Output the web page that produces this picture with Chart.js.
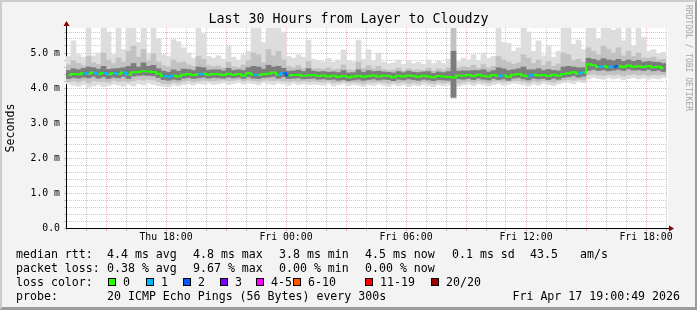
<!DOCTYPE html>
<html>
<head>
<meta charset="utf-8">
<script src="https://cdn.jsdelivr.net/npm/chart.js@4/dist/chart.umd.min.js"></script>
<style>
  body { margin: 0; }
  #frame {
    position: relative; width: 697px; height: 310px; box-sizing: border-box;
    background: #f3f3f3;
    border-top: 2px solid #cdcdcd; border-left: 2px solid #cdcdcd;
    border-right: 2px solid #9c9c9c; border-bottom: 3px solid #9c9c9c;
    font-family: 'DejaVu Sans Mono', monospace; color: #000;
  }
  #c { position: absolute; left: -2px; top: -2px; }
  .t { position: absolute; white-space: pre; font-size: 11.6px; line-height: 14px; }
  #title { position: absolute; left: -2px; width: 697px; top: 9px; text-align: center; font-size: 13.3px; line-height: 16px; }
  #rrd { position: absolute; left: 681px; top: 3px; writing-mode: vertical-rl; font-size: 8px; line-height: 10px; color: #a4a4a4; white-space: pre; }
  .box { position: absolute; width: 8px; height: 8px; box-sizing: border-box; border: 1px solid #000; }
</style>
</head>
<body>
<div id="frame">
  <canvas id="c" width="697" height="310"></canvas>
  <div id="title">Last 30 Hours from Layer to Cloudzy</div>
  <div id="rrd">RRDTOOL / TOBI OETIKER</div>
  <div id="legend"></div>
</div>
<script>
// 15 minute slots from Thu 13:00 to Fri 19:00 (values in ms)
const median = [
  4.37, 4.40, 4.39, 4.42, 4.41, 4.44, 4.40, 4.43, 4.39, 4.42,
  4.40, 4.44, 4.38, 4.45, 4.46, 4.48, 4.47, 4.46, 4.41, 4.34,
  4.32, 4.35, 4.33, 4.38, 4.40, 4.37, 4.39, 4.41, 4.38, 4.40,
  4.39, 4.37, 4.41, 4.38, 4.40, 4.36, 4.42, 4.38, 4.37, 4.39,
  4.41, 4.44, 4.38, 4.42, 4.36, 4.37, 4.38, 4.35, 4.36, 4.37,
  4.34, 4.36, 4.33, 4.35, 4.32, 4.34, 4.31, 4.33, 4.35, 4.32,
  4.34, 4.36, 4.33, 4.35, 4.34, 4.31, 4.35, 4.33, 4.36, 4.34,
  4.32, 4.35, 4.33, 4.31, 4.34, 4.33, 4.32, 4.30, 4.36, 4.35,
  4.37, 4.34, 4.38, 4.35, 4.33, 4.37, 4.34, 4.36, 4.32, 4.38,
  4.40, 4.36, 4.33, 4.38, 4.36, 4.37, 4.34, 4.38, 4.35, 4.40,
  4.42, 4.45, 4.41, 4.44, 4.68, 4.65, 4.60, 4.62, 4.59, 4.61,
  4.63, 4.60, 4.64, 4.61, 4.62, 4.60, 4.63, 4.59, 4.61, 4.57
];
// lost pings out of 20
const loss = [
  0, 0, 0, 1, 0, 1, 0, 1, 0, 1,
  0, 1, 0, 0, 0, 0, 0, 0, 0, 1,
  1, 0, 0, 0, 0, 0, 1, 0, 0, 0,
  0, 0, 0, 0, 0, 0, 0, 1, 0, 0,
  0, 0, 1, 2, 0, 0, 0, 0, 0, 0,
  0, 0, 0, 0, 0, 0, 0, 0, 0, 0,
  0, 0, 0, 0, 0, 0, 0, 0, 0, 0,
  0, 0, 0, 0, 0, 0, 0, 0, 0, 0,
  0, 0, 0, 0, 0, 0, 1, 0, 0, 0,
  0, 0, 1, 0, 0, 0, 0, 0, 0, 0,
  0, 0, 1, 0, 0, 0, 1, 0, 1, 2,
  0, 0, 0, 0, 0, 0, 0, 0, 0, 0
];
const maxRtt = [
  4.90, 5.35, 4.95, 4.88, 5.71, 4.92, 5.00, 5.71, 5.60, 4.95,
  5.71, 5.10, 5.71, 5.71, 5.30, 5.71, 5.00, 5.71, 5.40, 4.95,
  4.90, 5.38, 5.32, 5.15, 5.00, 4.85, 5.71, 5.55, 4.90, 4.85,
  4.92, 4.82, 5.20, 4.88, 4.80, 4.95, 5.05, 5.71, 5.71, 5.30,
  5.71, 5.71, 5.71, 5.60, 4.90, 4.85, 4.95, 4.88, 5.37, 4.82,
  4.78, 4.75, 4.85, 4.74, 4.80, 5.09, 4.78, 4.75, 5.37, 4.82,
  5.09, 4.76, 5.00, 4.74, 4.70, 4.72, 4.80, 4.68, 4.78, 4.70,
  4.74, 4.68, 4.80, 4.70, 4.76, 4.70, 4.82, 5.71, 4.75, 4.85,
  4.80, 4.95, 4.78, 5.00, 4.85, 4.90, 5.71, 5.30, 5.28, 5.05,
  5.15, 5.71, 5.60, 5.05, 5.35, 4.92, 5.20, 4.88, 5.05, 5.71,
  5.71, 5.25, 5.37, 5.10, 5.71, 5.71, 5.40, 5.71, 5.71, 5.65,
  5.71, 5.35, 5.71, 5.20, 5.71, 5.45, 5.05, 5.10, 4.98, 5.02
];
const hiMid = [
  4.66, 4.78, 4.70, 4.64, 4.90, 4.72, 4.68, 5.00, 4.80, 4.70,
  4.86, 4.74, 5.05, 5.20, 4.88, 5.10, 4.78, 4.98, 4.75, 4.64,
  4.60, 4.80, 4.72, 4.74, 4.66, 4.62, 4.90, 4.82, 4.64, 4.61,
  4.63, 4.58, 4.74, 4.61, 4.58, 4.66, 4.78, 5.00, 4.95, 4.72,
  5.10, 4.92, 5.05, 4.80, 4.62, 4.58, 4.64, 4.56, 4.76, 4.55,
  4.56, 4.53, 4.58, 4.52, 4.54, 4.66, 4.52, 4.50, 4.74, 4.56,
  4.64, 4.55, 4.62, 4.53, 4.50, 4.51, 4.57, 4.49, 4.55, 4.51,
  4.52, 4.50, 4.57, 4.49, 4.55, 4.51, 4.58, 5.71, 4.57, 4.61,
  4.59, 4.65, 4.56, 4.67, 4.57, 4.62, 4.90, 4.80, 4.74, 4.68,
  4.72, 4.95, 4.85, 4.70, 4.80, 4.64, 4.76, 4.62, 4.69, 5.00,
  4.95, 4.78, 4.82, 4.74, 5.15, 5.05, 4.95, 5.20, 5.10, 5.00,
  5.15, 4.92, 5.05, 4.90, 5.00, 4.86, 4.85, 4.88, 4.80, 4.82
];
const hiIn = [
  4.50, 4.55, 4.52, 4.56, 4.60, 4.58, 4.54, 4.62, 4.53, 4.55,
  4.56, 4.58, 4.62, 4.70, 4.60, 4.72, 4.62, 4.65, 4.55, 4.48,
  4.45, 4.52, 4.48, 4.54, 4.53, 4.50, 4.60, 4.58, 4.51, 4.52,
  4.52, 4.49, 4.56, 4.50, 4.52, 4.50, 4.58, 4.62, 4.60, 4.54,
  4.65, 4.60, 4.62, 4.56, 4.48, 4.49, 4.51, 4.47, 4.55, 4.48,
  4.46, 4.47, 4.45, 4.46, 4.44, 4.50, 4.43, 4.44, 4.52, 4.45,
  4.50, 4.47, 4.48, 4.46, 4.45, 4.43, 4.47, 4.44, 4.48, 4.45,
  4.44, 4.46, 4.47, 4.42, 4.46, 4.44, 4.47, 5.05, 4.48, 4.49,
  4.49, 4.50, 4.50, 4.52, 4.46, 4.50, 4.58, 4.55, 4.50, 4.52,
  4.55, 4.60, 4.52, 4.52, 4.55, 4.50, 4.53, 4.50, 4.49, 4.60,
  4.62, 4.60, 4.58, 4.58, 4.85, 4.82, 4.78, 4.84, 4.80, 4.78,
  4.82, 4.76, 4.80, 4.76, 4.79, 4.74, 4.76, 4.74, 4.73, 4.70
];
const loIn = [
  4.27, 4.30, 4.28, 4.31, 4.29, 4.33, 4.28, 4.32, 4.27, 4.31,
  4.29, 4.33, 4.27, 4.34, 4.36, 4.37, 4.36, 4.35, 4.30, 4.24,
  4.22, 4.25, 4.23, 4.28, 4.30, 4.27, 4.29, 4.31, 4.28, 4.30,
  4.29, 4.28, 4.31, 4.29, 4.31, 4.27, 4.32, 4.28, 4.27, 4.30,
  4.31, 4.33, 4.28, 4.32, 4.27, 4.28, 4.29, 4.26, 4.27, 4.28,
  4.25, 4.26, 4.24, 4.25, 4.22, 4.24, 4.21, 4.23, 4.25, 4.22,
  4.24, 4.26, 4.23, 4.25, 4.24, 4.21, 4.25, 4.23, 4.26, 4.24,
  4.22, 4.25, 4.23, 4.21, 4.24, 4.23, 4.22, 3.74, 4.26, 4.25,
  4.27, 4.24, 4.28, 4.25, 4.23, 4.27, 4.24, 4.26, 4.22, 4.28,
  4.30, 4.26, 4.23, 4.28, 4.26, 4.27, 4.24, 4.28, 4.25, 4.30,
  4.32, 4.35, 4.31, 4.34, 4.50, 4.53, 4.50, 4.52, 4.49, 4.51,
  4.53, 4.50, 4.54, 4.51, 4.52, 4.50, 4.53, 4.49, 4.51, 4.47
];
const loMid = [
  4.18, 4.20, 4.17, 4.22, 4.15, 4.21, 4.19, 4.18, 4.16, 4.22,
  4.19, 4.20, 4.18, 4.21, 4.24, 4.22, 4.25, 4.23, 4.18, 4.13,
  4.12, 4.16, 4.14, 4.19, 4.21, 4.18, 4.20, 4.22, 4.21, 4.20,
  4.22, 4.23, 4.21, 4.22, 4.24, 4.20, 4.23, 4.21, 4.19, 4.22,
  4.22, 4.21, 4.22, 4.20, 4.18, 4.21, 4.19, 4.20, 4.18, 4.20,
  4.18, 4.17, 4.19, 4.15, 4.16, 4.18, 4.15, 4.17, 4.16, 4.13,
  4.17, 4.16, 4.18, 4.16, 4.14, 4.17, 4.15, 4.17, 4.13, 4.16,
  4.14, 4.18, 4.15, 4.13, 4.17, 4.14, 4.16, 3.72, 4.14, 4.17,
  4.19, 4.16, 4.20, 4.17, 4.15, 4.19, 4.20, 4.17, 4.19, 4.21,
  4.21, 4.18, 4.15, 4.20, 4.17, 4.21, 4.18, 4.16, 4.20, 4.22,
  4.24, 4.22, 4.25, 4.23, 4.38, 4.40, 4.37, 4.36, 4.38, 4.37,
  4.39, 4.35, 4.38, 4.40, 4.37, 4.39, 4.36, 4.38, 4.37, 4.38
];
const minRtt = [
  4.12, 4.08, 4.05, 4.10, 4.02, 4.06, 4.09, 4.04, 4.07, 4.11,
  4.08, 4.05, 4.10, 4.06, 4.12, 4.09, 4.14, 4.10, 4.07, 4.05,
  4.03, 4.08, 4.06, 4.10, 4.12, 4.09, 4.13, 4.11, 4.14, 4.10,
  4.12, 4.15, 4.10, 4.13, 4.16, 4.11, 4.14, 4.12, 4.09, 4.15,
  4.12, 4.10, 4.14, 4.11, 4.08, 4.13, 4.10, 4.12, 4.09, 4.11,
  4.10, 4.08, 4.12, 4.06, 4.09, 4.11, 4.07, 4.10, 4.08, 4.05,
  4.09, 4.07, 4.11, 4.08, 4.05, 4.10, 4.06, 4.09, 4.04, 4.08,
  4.06, 4.10, 4.07, 4.04, 4.09, 4.06, 4.08, 3.70, 4.05, 4.09,
  4.11, 4.07, 4.12, 4.09, 4.06, 4.10, 4.13, 4.08, 4.11, 4.14,
  4.12, 4.09, 4.06, 4.11, 4.08, 4.13, 4.10, 4.07, 4.12, 4.15,
  4.16, 4.12, 4.18, 4.15, 4.26, 4.30, 4.27, 4.25, 4.29, 4.26,
  4.28, 4.24, 4.27, 4.30, 4.26, 4.29, 4.25, 4.28, 4.26, 4.30
];

// axis ticks: hours after Thu 13:00
const xTickHours = [5, 11, 17, 23, 29];
const xTickLabels = ["Thu 18:00", "Fri 00:00", "Fri 06:00", "Fri 12:00", "Fri 18:00"];
const yTickValues = [0, 1, 2, 3, 4, 5];
const yTickLabels = ["0.0", "1.0 m", "2.0 m", "3.0 m", "4.0 m", "5.0 m"];

const lossLabels = ["0", "1", "2", "3", "4-5", "6-10", "11-19", "20/20"];
const lossColors = ["#26ff00", "#00b8ff", "#0059ff", "#7e00ff", "#ff00ff", "#ff5500", "#ff0000", "#a00000"];
const lossMaxCount = [0, 1, 2, 3, 5, 10, 19, 20];

const legendRows = [
  ["median rtt:", "4.4 ms avg", "4.8 ms max", "3.8 ms min", "4.5 ms now", "0.1 ms sd", "43.5", "am/s"],
  ["packet loss:", "0.38 % avg", "9.67 % max", "0.00 % min", "0.00 % now"],
];

const MONO = "'DejaVu Sans Mono', monospace";
const gridGrey = "rgba(150, 150, 150, 0.5)";
const gridRed = "rgba(230, 80, 80, 0.45)";

function lossColor(n) {
  let k = lossMaxCount.findIndex((m) => n <= m);
  return lossColors[k < 0 ? 7 : k];
}

// legend text under the graph
function buildLegend() {
  const el = document.getElementById("legend");
  const colX = [14, 105, 191, 277, 363, 450, 528, 578];
  const rowTop = [245, 259, 273, 287];
  let html = "";
  legendRows.forEach((row, r) => {
    row.forEach((txt, c) => {
      html += `<div class="t" style="left:${colX[c]}px;top:${rowTop[r]}px">${txt}</div>`;
    });
  });
  html += `<div class="t" style="left:14px;top:${rowTop[2]}px">loss color:</div>`;
  const boxX = [106, 144, 181, 218, 254, 291, 363, 429];
  lossLabels.forEach((lab, i) => {
    html += `<div class="box" style="left:${boxX[i]}px;top:276px;background:${lossColors[i]}"></div>`;
    html += `<div class="t" style="left:${boxX[i] + 15}px;top:${rowTop[2]}px">${lab}</div>`;
  });
  html += `<div class="t" style="left:14px;top:${rowTop[3]}px">probe:</div>`;
  html += `<div class="t" style="left:105px;top:${rowTop[3]}px">20 ICMP Echo Pings (56 Bytes) every 300s</div>`;
  html += `<div class="t" style="right:15px;top:${rowTop[3]}px">Fri Apr 17 19:00:49 2026</div>`;
  el.innerHTML = html;
}
buildLegend();

// white canvas + axis arrows, like rrdtool
const rrdFrame = {
  id: "rrdFrame",
  beforeDraw(chart) {
    const { ctx, chartArea: a } = chart;
    ctx.save();
    ctx.fillStyle = "#ffffff";
    ctx.fillRect(a.left, a.top, a.right - a.left + 2, a.bottom - a.top);
    ctx.restore();
  },
  afterDraw(chart) {
    const { ctx, chartArea: a } = chart;
    ctx.save();
    ctx.strokeStyle = "#000";
    ctx.lineWidth = 1;
    ctx.beginPath();
    ctx.moveTo(a.left + 0.5, a.top);
    ctx.lineTo(a.left + 0.5, a.top - 3);
    ctx.moveTo(a.right, a.bottom + 0.5);
    ctx.lineTo(a.right + 4, a.bottom + 0.5);
    ctx.stroke();
    ctx.fillStyle = "#8b0000";
    ctx.beginPath();
    ctx.moveTo(a.left + 0.5, a.top - 7);
    ctx.lineTo(a.left - 2.5, a.top - 2);
    ctx.lineTo(a.left + 3.5, a.top - 2);
    ctx.closePath();
    ctx.fill();
    ctx.beginPath();
    ctx.moveTo(a.right + 8, a.bottom + 0.5);
    ctx.lineTo(a.right + 3, a.bottom - 2.5);
    ctx.lineTo(a.right + 3, a.bottom + 3.5);
    ctx.closePath();
    ctx.fill();
    ctx.restore();
  },
};

const slot = median.map((v, i) => i * 0.25 + 0.125);
const band = (lo, hi) => slot.map((x, i) => ({ x: x, y: [lo[i], hi[i]] }));
const barStyle = { type: "bar", grouped: false, barPercentage: 1, categoryPercentage: 1, borderWidth: 0 };

const config = {
  type: "bar",
  data: {
    datasets: [
      {
        type: "line",
        data: slot.map((x, i) => ({ x: x, y: median[i] })),
        stepped: "middle",
        borderWidth: 2,
        borderColor: lossColors[0],
        pointRadius: 0,
        order: 0,
        segment: { borderColor: (c) => lossColor(loss[c.p0DataIndex]) },
      },
      { ...barStyle, data: band(loIn, hiIn), backgroundColor: "#7c7c7c", order: 1 },
      { ...barStyle, data: band(loMid, hiMid), backgroundColor: "#c2c2c2", order: 2 },
      { ...barStyle, data: band(minRtt, maxRtt), backgroundColor: "#dddddd", order: 3 },
    ],
  },
  options: {
    responsive: false,
    animation: false,
    devicePixelRatio: 1,
    layout: { padding: { left: 0, right: 31, top: 28, bottom: 62 } },
    plugins: { legend: { display: false }, tooltip: { enabled: false }, title: { display: false } },
    scales: {
      x: {
        type: "linear",
        min: 0,
        max: 30,
        offset: false,
        afterFit: (s) => { s.height = 20; },
        grid: {
          offset: false,
          color: (c) => (c.tick && c.tick.value % 3 === 2 ? gridRed : gridGrey),
          tickLength: 3,
        },
        border: { color: "#000", dash: [1, 1] },
        ticks: {
          stepSize: 1,
          maxTicksLimit: 1000,
          autoSkip: false,
          maxRotation: 0,
          includeBounds: false,
          padding: 1,
          color: "#000",
          font: { family: MONO, size: 9.8 },
          callback: (v) => {
            const k = xTickHours.indexOf(v);
            return k >= 0 ? xTickLabels[k] : "";
          },
        },
      },
      y: {
        min: 0,
        max: 200 / 35,
        afterFit: (s) => { s.width = 66; },
        afterBuildTicks: (s) => {
          s.ticks = s.ticks.filter((t) => Math.abs(t.value * 5 - Math.round(t.value * 5)) < 1e-6);
        },
        grid: {
          color: (c) => (c.tick && Math.abs(c.tick.value - Math.round(c.tick.value)) < 1e-6 ? gridRed : gridGrey),
          tickLength: 2,
        },
        border: { color: "#000", dash: [1, 1] },
        title: {
          display: true,
          text: "Seconds",
          color: "#000",
          font: { family: MONO, size: 11.6 },
          padding: { top: 4, bottom: 0 },
        },
        ticks: {
          stepSize: 0.2,
          maxTicksLimit: 1000,
          autoSkip: false,
          includeBounds: false,
          padding: 4,
          color: "#000",
          font: { family: MONO, size: 9.8 },
          callback: (v) => {
            const k = yTickValues.findIndex((y) => Math.abs(y - v) < 1e-6);
            return k >= 0 ? yTickLabels[k] : "";
          },
        },
      },
    },
  },
  plugins: [rrdFrame],
};

const chart = new Chart(document.getElementById("c"), config);
</script>
</body>
</html>
